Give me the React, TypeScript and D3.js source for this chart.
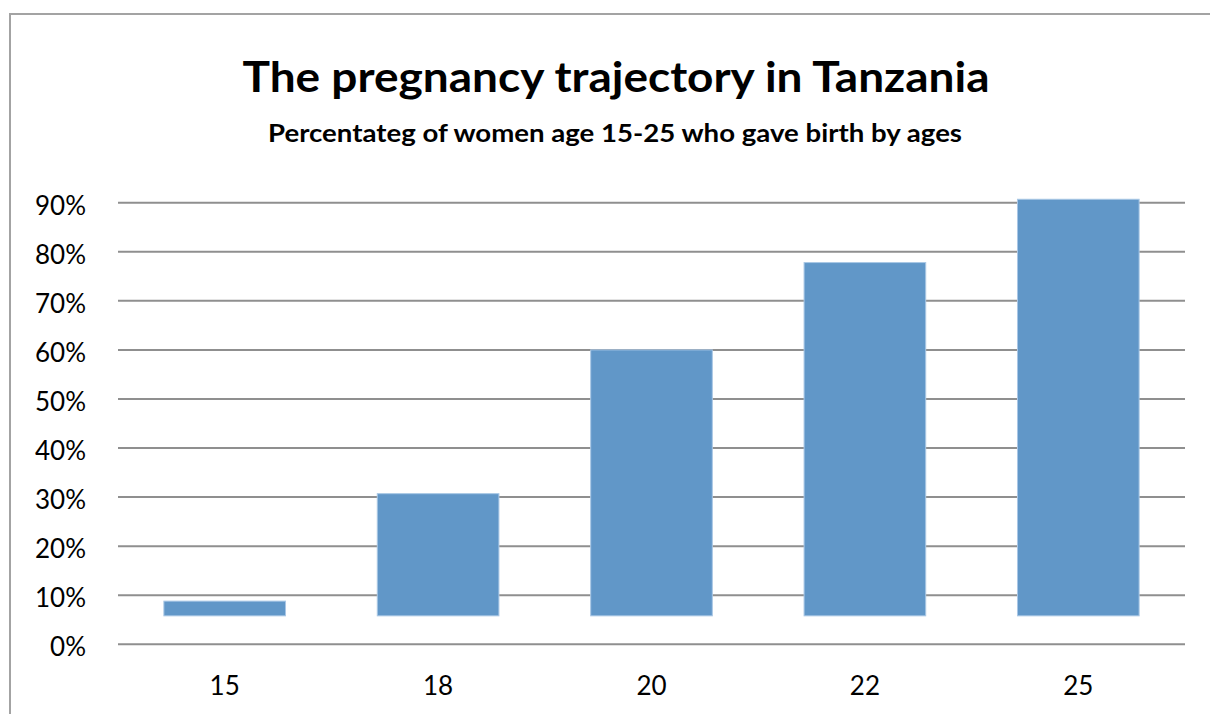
import React from "react";
import * as d3 from "d3";

const ages = ["15", "18", "20", "22", "25"];
const values = [0.088, 0.307, 0.6, 0.778, 0.907];
const barBase = [0.058, 0.058, 0.058, 0.058, 0.058];
const yTicks = [0, 0.1, 0.2, 0.3, 0.4, 0.5, 0.6, 0.7, 0.8, 0.9];
const title = "The pregnancy trajectory in Tanzania";
const subtitle = "Percentateg of women age 15-25 who gave birth by ages";

const W = 1210;
const H = 714;
const plotLeft = 118;
const plotRight = 1185;
const yBottom = 644.3;
const yTop = 202.7;

export default function App() {
  const x = d3
    .scaleBand<string>()
    .domain(ages)
    .range([plotLeft, plotRight])
    .paddingInner(0.43)
    .paddingOuter(0.215);
  const y = d3.scaleLinear().domain([0, 0.9]).range([yBottom, yTop]);
  const fmt = d3.format(".0%");
  const font = "'Source Sans Pro', Lato, 'Open Sans', sans-serif";

  return (
    <div style={{ position: "absolute", left: 0, top: 0 }}>
      <svg width={W} height={H} style={{ display: "block", background: "#fff" }}>
        <rect x={10} y={14} width={W + 20} height={H + 20} fill="#fff" stroke="#a3a3a3" strokeWidth={2} />
        <text
          x={616}
          y={92}
          textAnchor="middle"
          fontFamily={font}
          fontWeight={700}
          fontSize={42}
          textLength={747}
          lengthAdjust="spacingAndGlyphs"
          fill="#000"
        >
          {title}
        </text>
        <text
          x={615}
          y={142}
          textAnchor="middle"
          fontFamily={font}
          fontWeight={700}
          fontSize={24.5}
          textLength={694}
          lengthAdjust="spacingAndGlyphs"
          fill="#000"
        >
          {subtitle}
        </text>
        {yTicks.map((t) => (
          <g key={t}>
            <line x1={plotLeft} x2={plotRight} y1={y(t)} y2={y(t)} stroke="#8f8f8f" strokeWidth={2} />
            <text
              x={86}
              y={y(t) + 12}
              textAnchor="end"
              fontFamily={font}
              fontSize={26}
              fill="#000"
            >
              {fmt(t)}
            </text>
          </g>
        ))}
        {ages.map((a, i) => (
          <rect
            key={a}
            x={x(a)}
            y={y(values[i])}
            width={x.bandwidth()}
            height={y(barBase[i]) - y(values[i])}
            fill="#6197c8"
            stroke="#a9c7e5"
            strokeWidth={1}
          />
        ))}
        {ages.map((a) => (
          <text
            key={a}
            x={(x(a) as number) + x.bandwidth() / 2}
            y={695}
            textAnchor="middle"
            fontFamily={font}
            fontSize={26}
            fill="#000"
          >
            {a}
          </text>
        ))}
      </svg>
    </div>
  );
}
